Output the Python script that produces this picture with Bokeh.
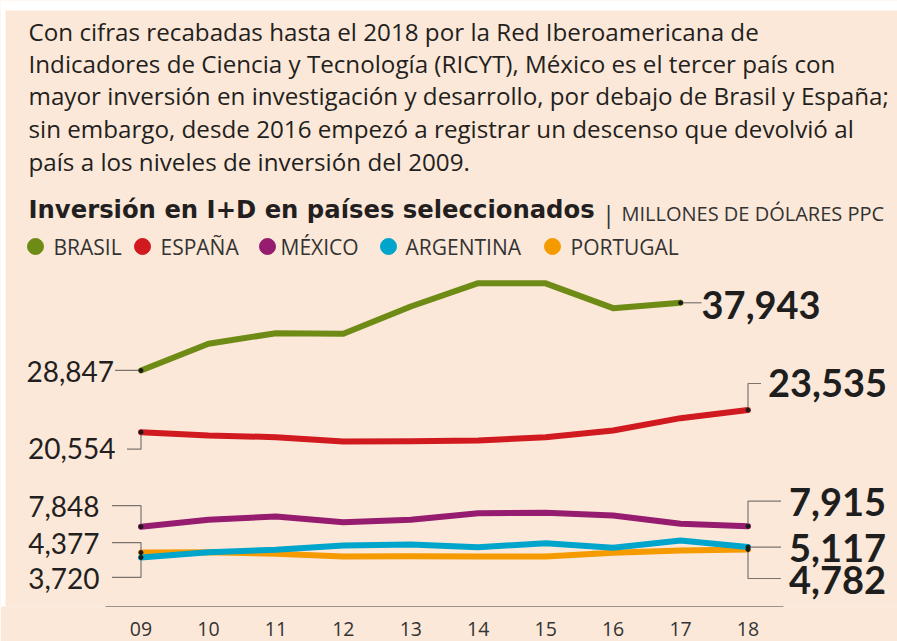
from bokeh.plotting import figure
from bokeh.models import Range1d, FixedTicker, ColumnDataSource
from bokeh.core.properties import value
from bokeh.embed import file_html
from bokeh.resources import INLINE

# ---------------- data ----------------
years = [2009, 2010, 2011, 2012, 2013, 2014, 2015, 2016, 2017, 2018]
tick_labels = ["09", "10", "11", "12", "13", "14", "15", "16", "17", "18"]
brasil_years = [2009, 2010, 2011, 2012, 2013, 2014, 2015, 2016, 2017]
brasil = [28847, 32435, 33860, 33779, 37449, 40580, 40560, 37220, 37943]
espana = [20554, 20111, 19883, 19305, 19345, 19439, 19883, 20783, 22436, 23535]
mexico = [7848, 8781, 9225, 8459, 8781, 9668, 9722, 9359, 8243, 7915]
argentina = [3720, 4427, 4749, 5327, 5461, 5099, 5636, 5018, 5999, 5117]
portugal = [4377, 4400, 4212, 3849, 3870, 3860, 3850, 4346, 4655, 4782]
series_names = ["BRASIL", "ESPAÑA", "MÉXICO", "ARGENTINA", "PORTUGAL"]

paragraph = [
    "Con cifras recabadas hasta el 2018 por la Red Iberoamericana de",
    "Indicadores de Ciencia y Tecnología (RICYT), México es el tercer país con",
    "mayor inversión en investigación y desarrollo, por debajo de Brasil y España;",
    "sin embargo, desde 2016 empezó a registrar un descenso que devolvió al",
    "país a los niveles de inversión del 2009.",
]
title = "Inversión en I+D en países seleccionados"
subtitle = "MILLONES DE DÓLARES PPC"

# ---------------- style ----------------
BG = "#FCE8D9"
INK = "#231F20"
GREY = "#333333"
LEAD = "#7a7470"
COLORS = {"BRASIL": "#6E8B16", "ESPAÑA": "#D01A1F", "MÉXICO": "#951C6E",
          "ARGENTINA": "#00A5CB", "PORTUGAL": "#F59B00"}
FONT = "Open Sans"
NUMFONT = "Lato"

W, FH = 897, 606
X0, X1 = 2006.9167, 2020.2168
Y0, Y1 = -2876, 78570
PX_PER_YEAR = W / (X1 - X0)
VAL_PER_PX = (Y1 - Y0) / FH

p = figure(frame_width=W, frame_height=FH, x_range=Range1d(X0, X1), y_range=Range1d(Y0, Y1),
           output_backend="svg", toolbar_location=None, y_axis_location=None,
           min_border_left=0, min_border_right=0, min_border_top=0, min_border_bottom=35,
           background_fill_color=BG, border_fill_color=BG, outline_line_color=None)
p.extra_x_ranges = {"px": Range1d(0, W)}
p.extra_y_ranges = {"py": Range1d(FH, 0)}
p.xgrid.visible = False
p.ygrid.visible = False

ax = p.xaxis[0]
ax.ticker = FixedTicker(ticks=years)
ax.major_label_overrides = {y: l for y, l in zip(years, tick_labels)}
ax.bounds = (2009 - 35.5 / PX_PER_YEAR, 2018 + 35.5 / PX_PER_YEAR)
ax.axis_line_color = "#9a9490"
ax.axis_line_width = 1.2
ax.major_tick_line_color = None
ax.minor_tick_line_color = None
ax.major_tick_out = 0
ax.major_tick_in = 0
ax.major_label_standoff = 15
ax.major_label_text_font = FONT
ax.major_label_text_font_size = "19.5px"
ax.major_label_text_color = GREY

pkw = dict(x_range_name="px", y_range_name="py")

# white page strip around the panel
p.quad(left=[0, 0], right=[W, 5], top=[0, 0], bottom=[10, FH], color="white", line_color=None, **pkw)

# ---------------- header (pixel coordinates, visual centres) ----------------
para_y = [30.5, 62.7, 95.2, 128.2, 160.7]
p.text(x=[28] * len(paragraph), y=para_y, text=paragraph, text_font=value(FONT),
       text_font_size="24.2px", text_color=INK, text_baseline="middle", **pkw)
p.text(x=[28], y=[209], text=[title], text_font=value("DejaVu Sans"), text_font_style="bold",
       text_font_size="24.3px", text_color=INK, text_baseline="middle", **pkw)
p.text(x=[608], y=[212.5], text=["|"], text_font=value(FONT), text_font_size="24px",
       text_color=GREY, text_baseline="middle", text_align="center", **pkw)
p.text(x=[621], y=[212.5], text=[subtitle], text_font=value(FONT), text_font_size="20px",
       text_color=GREY, text_baseline="middle", **pkw)

leg_cx = [35, 142, 267, 388, 552]
leg_tx = [53, 160, 280, 405, 570]
p.scatter(x=leg_cx, y=[246] * 5, size=16, color=[COLORS[n] for n in series_names], **pkw)
p.text(x=leg_tx, y=[246] * 5, text=series_names, text_font=value(FONT), text_font_size="21px",
       text_color=GREY, text_baseline="middle", **pkw)

# ---------------- lines ----------------
series = [("PORTUGAL", years, portugal), ("ARGENTINA", years, argentina),
          ("MÉXICO", years, mexico), ("ESPAÑA", years, espana), ("BRASIL", brasil_years, brasil)]
for name, xs, ys in series:
    p.line(xs, ys, line_color=COLORS[name], line_width=6, line_cap="round", line_join="round")

# ---------------- endpoint labels ----------------
def lab(xs, ys, idx):
    return xs[idx], ys[idx]

# (point, leader vertices in px relative to point, label dx, dy (centre), bold)
end_specs = [
    (lab(brasil_years, brasil, 0), [(0, 0), (-26, 0)], -27, 1, False),
    (lab(years, espana, 0), [(0, 0), (0, 17), (-14, 17)], -25.5, 16, False),
    (lab(years, mexico, 0), [(0, 0), (0, -21), (-29, -21)], -41.5, -20, False),
    (lab(years, portugal, 0), [(0, 0), (0, -10), (-29, -10)], -41.5, -9, False),
    (lab(years, argentina, 0), [(0, 0), (0, 20), (-29, 20)], -41.5, 21, False),
    (lab(brasil_years, brasil, -1), [(0, 0), (21, 0)], 21, 2, True),
    (lab(years, espana, -1), [(0, 0), (0, -26.5), (13, -26.5)], 20, -26.5, True),
    (lab(years, mexico, -1), [(0, 0), (0, -25), (33, -25)], 41, -24, True),
    (lab(years, argentina, -1), [(0, 0), (33, 0)], 41, 1, True),
    (lab(years, portugal, -1), [(0, 0), (0, 29), (33, 29)], 41, 30, True),
]

lx, ly, dot_x, dot_y = [], [], [], []
for (x, v), verts, dx, dy, bold in end_specs:
    lx.append([x + a / PX_PER_YEAR for a, b in verts])
    ly.append([v - b * VAL_PER_PX for a, b in verts])
    dot_x.append(x)
    dot_y.append(v)
p.multi_line(lx, ly, line_color=LEAD, line_width=1.2)
p.scatter(dot_x, dot_y, size=4, color="#1a1a1a")

for bold in (False, True):
    sel = [s for s in end_specs if s[4] == bold]
    src = ColumnDataSource(dict(
        x=[s[0][0] for s in sel], y=[s[0][1] for s in sel],
        t=[f"{s[0][1]:,}" for s in sel],
        dx=[s[2] for s in sel], dy=[s[3] for s in sel]))
    p.text(x="x", y="y", text="t", x_offset="dx", y_offset="dy", source=src,
           text_font=value(NUMFONT), text_font_style="bold" if bold else "normal",
           text_font_size="38px" if bold else "28px", text_color="#1e1e1e" if bold else INK,
           text_baseline="middle", text_align="left" if bold else "right")

open("out.html", "w").write(file_html(p, INLINE))
